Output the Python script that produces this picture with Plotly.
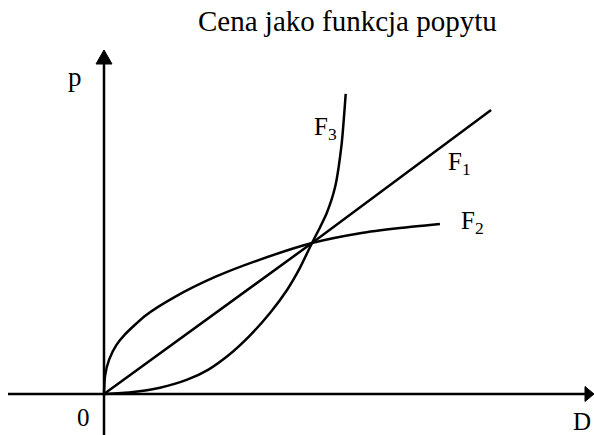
import plotly.graph_objects as go

# Data (D = demand, p = price); curves meet at (1, 1)
f1_d = [0.0, 1.0, 1.861]
f1_p = [0.0, 1.0, 1.881]

f2_d = [0.0, 0.005, 0.025, 0.06, 0.101, 0.20, 0.337, 0.534, 0.75, 1.0, 1.231, 1.423, 1.615]
f2_p = [0.0, 0.12, 0.229, 0.325, 0.395, 0.52, 0.64, 0.775, 0.89, 1.0, 1.065, 1.099, 1.126]

f3_d = [0.0, 0.13, 0.269, 0.4, 0.5, 0.6, 0.7, 0.8, 0.88, 0.94, 1.0, 1.04, 1.071, 1.111, 1.143, 1.162]
f3_p = [0.0, 0.012, 0.042, 0.095, 0.16, 0.258, 0.385, 0.54, 0.689, 0.83, 1.0, 1.108, 1.199, 1.371, 1.662, 1.987]

title_text = "Cena jako funkcja popytu"
curve_labels = ["F<sub>1</sub>", "F<sub>2</sub>", "F<sub>3</sub>"]

W, H = 594, 435
FONT = "Liberation Serif, Times New Roman, serif"

def fx(x):
    return x / W

def fy(y):
    return 1 - y / H

fig = go.Figure()
line = dict(color="black", width=2.5)
for d, p in [(f1_d, f1_p), (f2_d, f2_p), (f3_d, f3_p)]:
    fig.add_trace(go.Scatter(x=d, y=p, mode="lines", line=dict(line, shape="spline", smoothing=0.6),
                             hoverinfo="skip", showlegend=False))

shapes = [
    # x axis
    dict(type="line", xref="paper", yref="paper", x0=fx(8), y0=fy(394), x1=fx(586), y1=fy(394),
         line=dict(color="black", width=2.5)),
    dict(type="path", xref="paper", yref="paper",
         path=f"M {fx(585)} {fy(386.5)} L {fx(594)} {fy(394)} L {fx(585)} {fy(401.5)} Z",
         fillcolor="black", line=dict(color="black", width=1)),
    # y axis
    dict(type="line", xref="paper", yref="paper", x0=fx(104), y0=fy(435), x1=fx(104), y1=fy(60),
         line=dict(color="black", width=2.5)),
    dict(type="path", xref="paper", yref="paper",
         path=f"M {fx(96)} {fy(64)} L {fx(104)} {fy(50)} L {fx(112)} {fy(64)} Z",
         fillcolor="black", line=dict(color="black", width=1)),
]

def ann(text, x, y, size, xanchor="center"):
    return dict(text=text, xref="paper", yref="paper", x=fx(x), y=fy(y), xanchor=xanchor,
                yanchor="middle", showarrow=False, font=dict(family=FONT, size=size, color="black"))

annotations = [
    ann(title_text, 347.5, 21.5, 29),
    ann("p", 75, 77, 27),
    ann("0", 83, 417.5, 25),
    ann("D", 582, 421, 25),
    ann(curve_labels[0], 446, 164, 25, "left"),
    ann(curve_labels[1], 459, 222, 25, "left"),
    ann(curve_labels[2], 312, 129, 25, "left"),
]

x_lo = -104 / 208
x_hi = (594 - 104) / 208
y_lo = (394 - 435) / 151
y_hi = 394 / 151

fig.update_layout(
    width=W, height=H, autosize=False,
    margin=dict(l=0, r=0, t=0, b=0),
    paper_bgcolor="white", plot_bgcolor="white",
    xaxis=dict(range=[x_lo, x_hi], visible=False, fixedrange=True),
    yaxis=dict(range=[y_lo, y_hi], visible=False, fixedrange=True),
    shapes=shapes, annotations=annotations,
)

fig.write_html("out.html", config={"displayModeBar": False},
               post_script="document.body.style.margin='0';document.body.style.overflow='hidden';")
